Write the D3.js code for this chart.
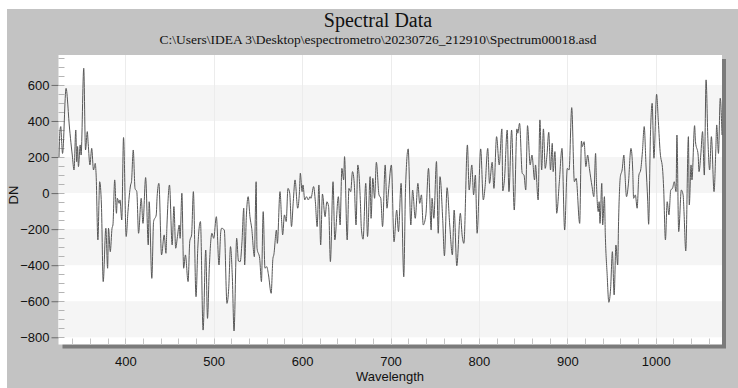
<!DOCTYPE html>
<html>
<head>
<meta charset="utf-8">
<script src="https://cdn.jsdelivr.net/npm/d3@7/dist/d3.min.js"></script>
<style>
  html, body { margin: 0; padding: 0; background: #ffffff; }
  svg { display: block; }
</style>
</head>
<body>
<svg id="chart" width="738" height="388"></svg>
<script>
// Spectrum read-out: wavelength (nm) and detector counts (DN)
const wavelength = [
  325,326,327,328,329,333,335,336,338,340,342,344,345,346,347,349,350,353,355,357,
  358,360,362,364,366,367,369,371,373,375,378,380,381,383,385,386,388,390,391,393,
  394,396,398,401,403,406,407,409,411,413,415,418,420,423,426,427,430,432,435,436,
  438,441,444,446,447,450,453,455,457,459,461,462,464,466,468,471,473,475,477,480,
  482,485,488,491,493,495,498,500,503,506,508,509,512,515,517,519,521,523,526,528,
  530,532,534,535,537,539,541,543,546,548,549,552,554,556,558,560,562,565,567,568,
  571,572,575,577,578,580,582,584,586,588,590,592,595,597,598,600,601,603,605,607,
  609,610,613,615,617,619,621,623,626,628,630,632,635,637,641,643,645,647,648,651,
  653,655,657,659,661,663,666,667,669,672,674,677,678,680,682,684,687,689,691,694,
  696,698,701,704,707,709,712,715,717,720,723,725,728,731,733,735,737,740,743,746,
  747,749,752,754,756,759,761,764,767,770,772,775,779,781,783,787,789,792,794,796,
  798,802,805,807,810,812,815,817,820,823,826,827,829,832,834,837,840,843,844,846,
  849,851,853,855,858,860,863,864,867,869,871,873,875,877,879,881,883,884,886,888,
  891,894,897,900,902,905,908,910,914,916,917,919,921,923,925,928,930,932,933,935,
  936,937,939,940,942,943,945,947,949,951,953,955,957,958,960,962,964,965,967,969,
  972,974,975,977,979,981,983,985,987,989,991,992,994,996,998,1001,1003,1005,1008,1009,
  1011,1013,1015,1017,1019,1021,1023,1024,1026,1029,1031,1032,1034,1037,1038,1040,1041,1044,1045,1048,
  1049,1051,1053,1055,1057,1059,1061,1063,1066,1068,1069,1071,1073,1075
];
const dn = [
  200,341,369,285,220,581,489,415,304,211,128,350,174,258,147,267,211,692,239,341,
  276,156,248,128,165,100,-260,63,-66,-491,-195,-417,-195,-325,-195,-177,73,-112,-29,-57,
  -38,-149,308,-241,-103,45,63,239,26,8,-223,-29,-168,86,-288,-48,-473,-158,-121,-20,
  54,-343,-232,-334,-195,45,-288,-75,-306,-241,-177,-251,-1,-417,-343,-491,-265,-232,8,-575,
  -306,-158,-760,-316,-695,-417,-223,-251,-131,-399,-214,-195,-205,-612,-528,-297,-454,-765,-251,-377,
  -380,-270,-84,-399,-121,-20,-131,-195,-353,63,-306,-362,-491,-103,-417,-408,-454,-556,-362,-343,
  -205,-279,8,-168,-232,-121,-158,26,-1,-186,-48,73,-84,8,110,8,45,-38,-20,-38,
  -20,-29,36,-48,-186,45,-288,-5,-131,-48,-75,-380,63,-260,-20,-177,137,73,202,-260,
  26,8,119,54,-177,156,-57,-195,-256,54,-241,91,-140,82,-29,171,-10,-29,-186,156,
  -84,26,156,-270,-94,-214,54,-464,26,245,-177,17,-140,54,-57,-10,-177,-121,137,-205,
  -29,-140,175,-223,91,-140,-348,30,-177,-343,-94,-403,-112,-232,-279,267,17,156,-10,100,
  -223,245,-38,36,248,54,171,26,313,156,356,12,82,350,8,350,-94,356,332,387,
  110,100,17,374,156,211,73,156,-38,406,128,356,137,211,337,128,276,119,230,-112,
  63,248,-205,137,128,474,63,82,-168,289,258,285,147,211,137,36,-20,220,54,-103,
  -48,-168,54,-177,-20,-232,-445,-606,-528,-325,-565,-288,-399,-158,91,128,211,128,-20,45,
  248,128,-29,-10,-84,100,128,230,369,156,-48,-173,313,498,193,548,396,230,119,26,
  -260,-48,-121,17,26,63,8,322,-214,17,-10,-103,-321,313,-66,156,73,374,285,211,
  119,211,341,100,628,304,128,313,8,239,378,220,526,322
];

// Axis ticks
const xTickLabels = [400, 500, 600, 700, 800, 900, 1000];
const yTickLabels = [-800, -600, -400, -200, 0, 200, 400, 600];

const title = "Spectral Data";
const subtitle = "C:\\Users\\IDEA 3\\Desktop\\espectrometro\\20230726_212910\\Spectrum00018.asd";

const svg = d3.select("#chart");
const W = 738, H = 388;
const plot = { left: 58.5, right: 722, top: 55, bottom: 344.5 };

const x = d3.scaleLinear().domain([325, 1075]).range([plot.left + 0.5, plot.right]);
const y = d3.scaleLinear().domain([-840, 766]).range([plot.bottom, plot.top]);

// Panel background
svg.append("rect").attr("x", 7).attr("y", 9).attr("width", W - 7).attr("height", H - 9)
  .attr("fill", "#c3c3c3");

// Drop shadow behind the plotting area
svg.append("rect")
  .attr("x", plot.left + 4).attr("y", plot.top + 4)
  .attr("width", plot.right - plot.left).attr("height", plot.bottom - plot.top)
  .attr("fill", "#7b7b7b");

// Plotting area
svg.append("rect")
  .attr("x", plot.left).attr("y", plot.top)
  .attr("width", plot.right - plot.left).attr("height", plot.bottom - plot.top)
  .attr("fill", "#ffffff");

// Alternating horizontal bands
const bandStarts = [-800, -400, 0, 400];
svg.append("g").selectAll("rect").data(bandStarts).join("rect")
  .attr("x", plot.left).attr("width", plot.right - plot.left)
  .attr("y", d => y(d + 200)).attr("height", d => y(d) - y(d + 200))
  .attr("fill", "#f5f5f5");

// Faint vertical grid
svg.append("g").selectAll("line").data(xTickLabels).join("line")
  .attr("x1", d => Math.round(x(d)) + 0.5).attr("x2", d => Math.round(x(d)) + 0.5)
  .attr("y1", plot.top).attr("y2", plot.bottom)
  .attr("stroke", "#ececec").attr("stroke-width", 1);

// Minor ticks along the left edge (every 50 DN)
const yMinor = d3.range(-800, 751, 50);
svg.append("g").selectAll("line").data(yMinor).join("line")
  .attr("x1", plot.left).attr("x2", plot.left + 6)
  .attr("y1", d => Math.round(y(d)) + 0.5).attr("y2", d => Math.round(y(d)) + 0.5)
  .attr("stroke", "#b4b4b4").attr("stroke-width", 1);

// Minor ticks along the bottom edge (every 20 nm)
const xMinor = d3.range(340, 1075, 20);
svg.append("g").selectAll("line").data(xMinor).join("line")
  .attr("x1", d => Math.round(x(d)) + 0.5).attr("x2", d => Math.round(x(d)) + 0.5)
  .attr("y1", plot.bottom).attr("y2", plot.bottom - 6)
  .attr("stroke", "#c4c4c4").attr("stroke-width", 1);

// Left axis: labels with outward ticks
const yAxis = d3.axisLeft(y).tickValues(yTickLabels).tickSize(7).tickPadding(2)
  .tickFormat(d3.format("d"));
const gy = svg.append("g").attr("transform", `translate(${plot.left},0)`).call(yAxis);
gy.select(".domain").remove();
gy.selectAll(".tick line").attr("stroke", "#6a6a6a");
gy.selectAll(".tick text").attr("fill", "#111").attr("font-family", "'Liberation Sans', Arial, sans-serif")
  .attr("font-size", 13);

// Bottom axis: labels below the shadow band
const xAxis = d3.axisBottom(x).tickValues(xTickLabels).tickSize(0).tickPadding(12)
  .tickFormat(d3.format("d"));
const gx = svg.append("g").attr("transform", `translate(0,${plot.bottom})`).call(xAxis);
gx.select(".domain").remove();
gx.selectAll(".tick text").attr("fill", "#111").attr("font-family", "'Liberation Sans', Arial, sans-serif")
  .attr("font-size", 13);

// Spectrum trace
const pts = wavelength.map((w, i) => [w, dn[i]]);
const line = d3.line().x(d => x(d[0])).y(d => y(d[1])).curve(d3.curveMonotoneX);
svg.append("path").datum(pts)
  .attr("d", line)
  .attr("fill", "none")
  .attr("stroke", "#585858")
  .attr("stroke-width", 1)
  .attr("stroke-linejoin", "round");

// Titles
svg.append("text").attr("x", 378).attr("y", 27).attr("text-anchor", "middle")
  .attr("font-family", "'Liberation Serif', 'Times New Roman', serif").attr("font-size", 20)
  .attr("fill", "#111").text(title);
svg.append("text").attr("x", 378).attr("y", 44).attr("text-anchor", "middle")
  .attr("font-family", "'Liberation Serif', 'Times New Roman', serif").attr("font-size", 13.5)
  .attr("fill", "#111").text(subtitle);

// Axis titles
svg.append("text").attr("x", 390).attr("y", 381).attr("text-anchor", "middle")
  .attr("font-family", "'Liberation Sans', Arial, sans-serif").attr("font-size", 13)
  .attr("fill", "#111").text("Wavelength");
svg.append("text").attr("transform", "translate(18,195) rotate(-90)").attr("text-anchor", "middle")
  .attr("font-family", "'Liberation Sans', Arial, sans-serif").attr("font-size", 13)
  .attr("fill", "#111").text("DN");
</script>
</body>
</html>
